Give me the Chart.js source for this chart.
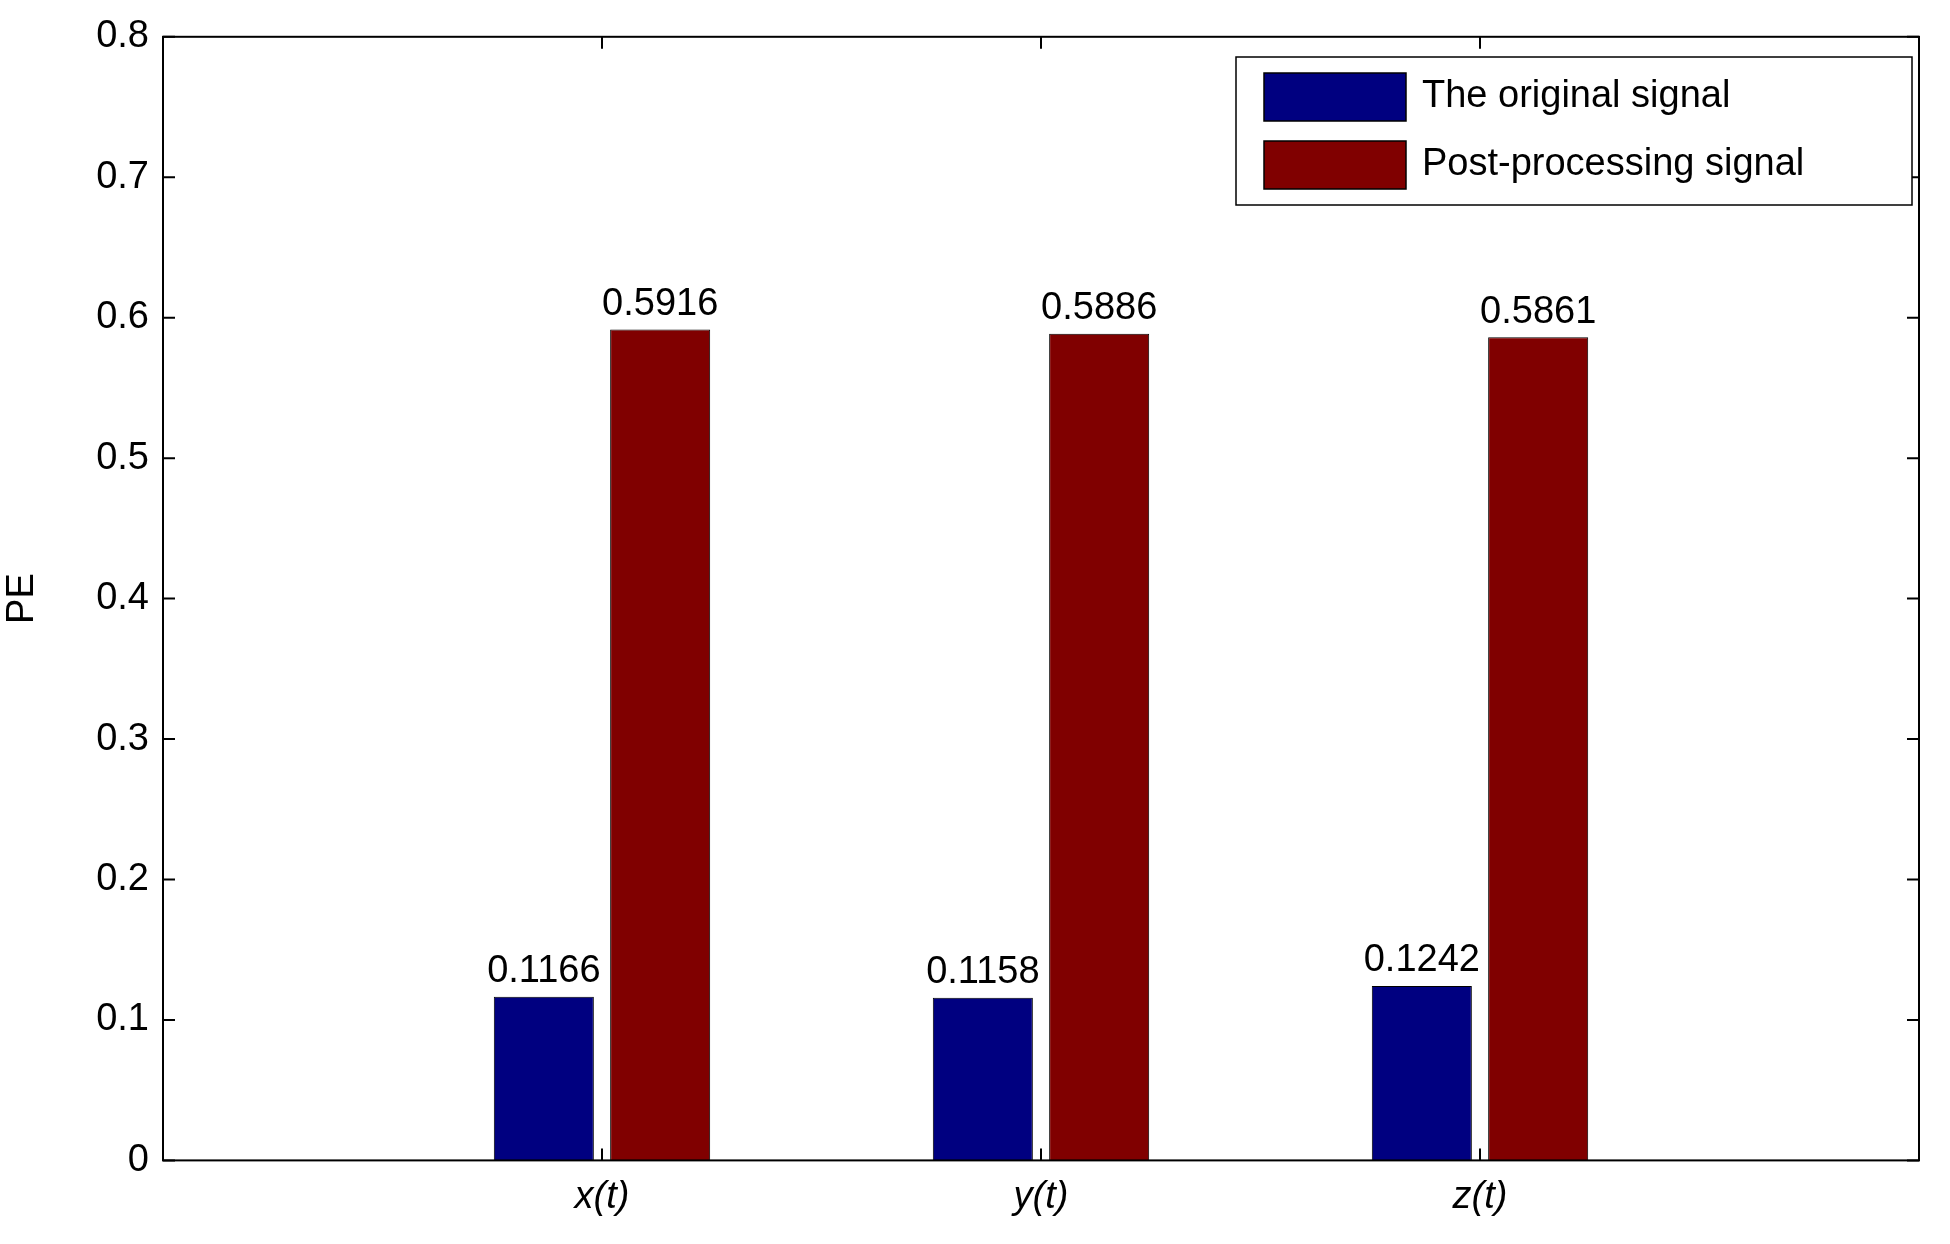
<!DOCTYPE html>
<html><head>
<script src="https://cdn.jsdelivr.net/npm/chart.js@4/dist/chart.umd.min.js"></script>
<style>body{margin:0;background:#fff}#wrap{width:1950px;height:1244px}</style>
</head><body><div id="wrap"><canvas id="c"></canvas></div>
<script>
const categorias = ['', 'x(t)', 'y(t)', 'z(t)', ''];
const sinalOriginal = [null, 0.1166, 0.1158, 0.1242, null];
const sinalProcessado = [null, 0.5916, 0.5886, 0.5861, null];
const rotulosY = [0, 0.1, 0.2, 0.3, 0.4, 0.5, 0.6, 0.7, 0.8];

const fonte = '"Liberation Sans", Arial, sans-serif';

// rótulos, moldura e legenda desenhados à mão
const extras = {
  id: 'extras',
  afterDatasetsDraw(chart) {
    const ctx = chart.ctx, a = chart.chartArea;
    ctx.save();
    ctx.font = '38px ' + fonte;
    ctx.fillStyle = '#000';
    ctx.textAlign = 'center';
    ctx.textBaseline = 'bottom';
    chart.data.datasets.forEach((ds, i) => {
      chart.getDatasetMeta(i).data.forEach((bar, j) => {
        if (ds.data[j] == null) return;
        ctx.fillText(ds.data[j].toFixed(4), bar.x, bar.y - 6);
      });
    });
    ctx.strokeStyle = '#000';
    ctx.lineWidth = 2;
    ctx.strokeRect(a.left, a.top, a.right - a.left, a.bottom - a.top);
    // marcas internas
    const ys = chart.scales.y, xs = chart.scales.x;
    rotulosY.forEach(v => {
      const y = ys.getPixelForValue(v);
      ctx.beginPath();
      ctx.moveTo(a.left, y); ctx.lineTo(a.left + 12, y);
      ctx.moveTo(a.right, y); ctx.lineTo(a.right - 12, y);
      ctx.stroke();
    });
    [1, 2, 3].forEach(k => {
      const x = xs.getPixelForValue(k);
      ctx.beginPath();
      ctx.moveTo(x, a.bottom); ctx.lineTo(x, a.bottom - 12);
      ctx.moveTo(x, a.top); ctx.lineTo(x, a.top + 12);
      ctx.stroke();
    });
    // legenda
    const lx = 1236, ly = 57, lw = 676, lh = 148;
    ctx.fillStyle = '#fff';
    ctx.fillRect(lx, ly, lw, lh);
    ctx.lineWidth = 1.5;
    ctx.strokeRect(lx, ly, lw, lh);
    const itens = [['The original signal', '#000080'], ['Post-processing signal', '#800000']];
    ctx.textAlign = 'left';
    ctx.textBaseline = 'middle';
    itens.forEach((it, i) => {
      const cy = ly + 40 + i * 68;
      ctx.fillStyle = it[1];
      ctx.fillRect(lx + 28, cy - 24, 142, 48);
      ctx.strokeRect(lx + 28, cy - 24, 142, 48);
      ctx.fillStyle = '#000';
      ctx.fillText(it[0], lx + 186, cy);
    });
    ctx.restore();
  }
};

new Chart(document.getElementById('c'), {
  type: 'bar',
  data: {
    labels: categorias,
    datasets: [
      { label: 'The original signal', data: sinalOriginal, backgroundColor: '#000080', borderColor: '#000', borderWidth: 1 },
      { label: 'Post-processing signal', data: sinalProcessado, backgroundColor: '#800000', borderColor: '#000', borderWidth: 1 }
    ]
  },
  options: {
    responsive: true,
    maintainAspectRatio: false,
    animation: false,
    datasets: { bar: { categoryPercentage: 0.53, barPercentage: 0.86 } },
    layout: { padding: { top: 34, right: 31, bottom: 10, left: 0 } },
    plugins: { legend: { display: false }, tooltip: { enabled: false } },
    scales: {
      x: {
        offset: false,
        grid: { display: false, drawTicks: false },
        border: { display: false },
        ticks: { color: '#000', font: { family: fonte, size: 38, style: 'italic' }, padding: 14 }
      },
      y: {
        min: 0, max: 0.8,
        grid: { display: false, drawTicks: false },
        border: { display: false },
        afterBuildTicks: s => { s.ticks = rotulosY.map(v => ({ value: v })); },
        afterFit: s => { s.width = 163; },
        ticks: { color: '#000', font: { family: fonte, size: 38 }, padding: 14, callback: v => String(v) },
        title: { display: true, text: 'PE', color: '#000', font: { family: fonte, size: 38 }, padding: 0 }
      }
    }
  },
  plugins: [extras]
});
</script></body></html>
